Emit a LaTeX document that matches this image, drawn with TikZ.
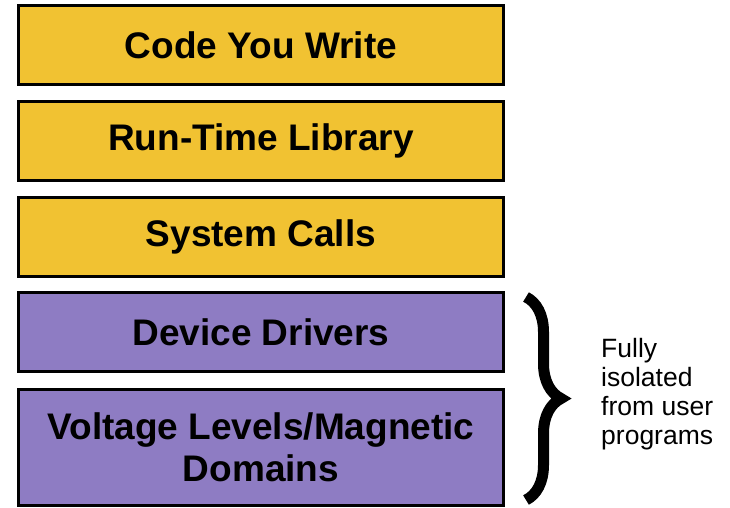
\documentclass[tikz,border=0pt]{standalone}
\usepackage{fontspec}
\setmainfont{Liberation Sans}
\usetikzlibrary{decorations.pathreplacing}
\definecolor{layeryellow}{HTML}{F1C232}
\definecolor{layerpurple}{HTML}{8E7CC3}
\begin{document}
\begin{tikzpicture}
  [x=1pt,y=-1pt,
   layer/.style={draw=black,line width=3pt,minimum width=485pt,minimum height=79pt,
     inner sep=0pt,align=center,font=\fontsize{37}{42}\selectfont\bfseries},
   user/.style={layer,fill=layeryellow},
   kernel/.style={layer,fill=layerpurple}]
  \useasboundingbox (0,0) rectangle (730,507);
  \node[user] (code) at (261,45) {Code You Write};
  \node[user] (rtl) at (261,140.5) {Run-Time Library};
  \node[user] (sys) at (261,236.5) {System Calls};
  \node[kernel] (drv) at (261,332) {Device Drivers};
  \node[kernel,minimum height=116pt] (volt) at (261,447) {Voltage Levels/Magnetic\\Domains};

  % brace for the isolated layers
  \coordinate (btop) at (526,297);
  \coordinate (bbot) at (526,500);
  \draw[line width=11pt,decorate,decoration={brace,amplitude=35pt}] (btop) -- (bbot);
  \node[anchor=west,align=left,inner sep=0pt,font=\fontsize{26.5}{29}\selectfont] (note) at (601,394)
    {Fully\\isolated\\from user\\programs};
\end{tikzpicture}
\end{document}
